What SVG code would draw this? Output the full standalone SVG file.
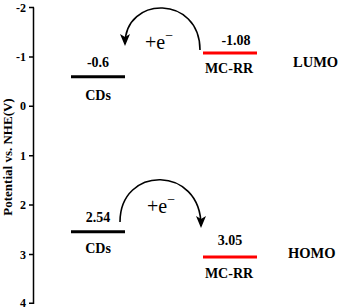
<svg xmlns="http://www.w3.org/2000/svg" width="340" height="308" viewBox="0 0 340 308">
  <style>
    .t { font-family: "Liberation Serif", "Times New Roman", serif; font-weight: bold; fill: #000; }
    .tick { font-size: 12px; text-anchor: end; }
    .lbl { font-size: 14px; text-anchor: middle; }
    .side { font-size: 14.5px; text-anchor: start; }
    .e { font-family: "Liberation Serif", "Times New Roman", serif; font-size: 20px; fill: #000; }
    .axis { stroke: #000; stroke-width: 1.5; fill: none; }
    .lvl-k { stroke: #000; stroke-width: 3; }
    .lvl-r { stroke: #ff0000; stroke-width: 3; }
    .arc { stroke: #000; stroke-width: 1.6; fill: none; }
  </style>
  <defs>
    <marker id="ah" markerWidth="12" markerHeight="12" refX="10" refY="5" orient="auto" markerUnits="userSpaceOnUse" viewBox="0 0 12 10">
      <path d="M0,0 L12,5 L0,10 L3,5 Z" fill="#000"/>
    </marker>
  </defs>

  <g id="axis">
    <path class="axis" d="M33.5,7.5 V303.9"/>
    <path class="axis" d="M29,7.5 H34 M29,56.9 H34 M29,106.3 H34 M29,155.7 H34 M29,205.1 H34 M29,254.5 H34 M29,303.3 H34"/>
    <text class="t tick" x="26" y="11.5">-2</text>
    <text class="t tick" x="26" y="60.9">-1</text>
    <text class="t tick" x="26" y="110.3">0</text>
    <text class="t tick" x="26" y="159.7">1</text>
    <text class="t tick" x="26" y="209.1">2</text>
    <text class="t tick" x="26" y="258.5">3</text>
    <text class="t tick" x="26" y="306.5">4</text>
    <text class="t" font-size="13" text-anchor="middle" transform="translate(12,157) rotate(-90)">Potential vs. NHE(V)</text>
  </g>

  <g id="cds-lumo">
    <line class="lvl-k" x1="71" y1="76.7" x2="125" y2="76.7"/>
    <text class="t lbl" x="98" y="67">-0.6</text>
    <text class="t lbl" x="98" y="100">CDs</text>
  </g>

  <g id="mcrr-lumo">
    <line class="lvl-r" x1="203" y1="53" x2="257" y2="53"/>
    <text class="t lbl" x="236" y="45">-1.08</text>
    <text class="t lbl" x="229" y="73">MC-RR</text>
  </g>

  <g id="cds-homo">
    <line class="lvl-k" x1="71" y1="231.8" x2="125" y2="231.8"/>
    <text class="t lbl" x="98" y="222">2.54</text>
    <text class="t lbl" x="98" y="253">CDs</text>
  </g>

  <g id="mcrr-homo">
    <line class="lvl-r" x1="203" y1="257" x2="257" y2="257"/>
    <text class="t lbl" x="230" y="245">3.05</text>
    <text class="t lbl" x="229" y="278">MC-RR</text>
  </g>

  <g id="lumo-label">
    <text class="t side" x="293" y="67">LUMO</text>
  </g>
  <g id="homo-label">
    <text class="t side" x="288" y="258">HOMO</text>
  </g>

  <g id="connectors">
    <path class="arc" d="M200,50 C200,-5 125,-5 125,44" marker-end="url(#ah)"/>
    <text class="e" x="145" y="49">+e<tspan font-size="14" dy="-9">−</tspan></text>
    <path class="arc" d="M120,222 C120,165 201,165 201,226" marker-end="url(#ah)"/>
    <text class="e" x="147" y="213">+e<tspan font-size="14" dy="-9">−</tspan></text>
  </g>
</svg>
